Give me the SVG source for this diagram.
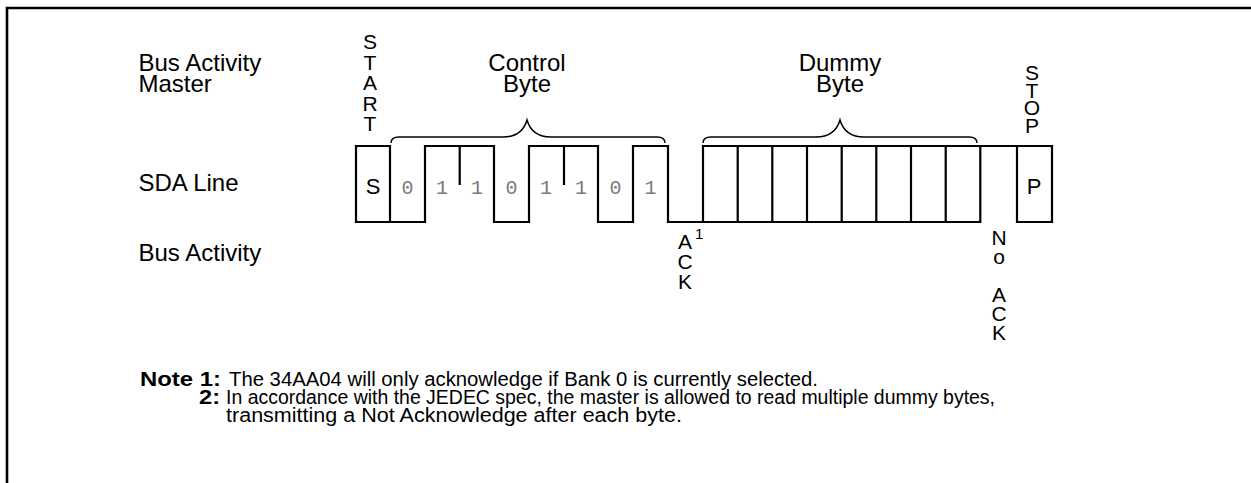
<svg xmlns="http://www.w3.org/2000/svg" width="1251" height="483" viewBox="0 0 1251 483">
<style>
text{font-family:"Liberation Sans",Arial,sans-serif;fill:#000}
.lbl{font-size:24px}
.vt{font-size:21px;text-anchor:middle}
.bit{font-family:"Liberation Mono","Courier New",monospace;font-size:20px;fill:#7a7a7a;text-anchor:middle}
.sp{font-size:22px;text-anchor:middle}
.note{font-size:20px}
.b{font-weight:bold}
.wave{fill:none;stroke:#000;stroke-width:2.2;stroke-linejoin:miter;stroke-linecap:square}
.brace{fill:none;stroke:#000;stroke-width:1.5}
.frame{fill:none;stroke:#000;stroke-width:2.6}
</style>
<rect width="1251" height="483" fill="#fff"/>
<g id="frame"><path class="frame" d="M7,483 V8 H1251"/></g>
<g id="row-labels">
<text class="lbl" x="138.5" y="71">Bus Activity</text>
<text class="lbl" x="138.5" y="92">Master</text>
<text class="lbl" x="138.5" y="191">SDA Line</text>
<text class="lbl" x="138.5" y="261">Bus Activity</text>
</g>
<g id="start">
<text class="vt"><tspan x="370" y="49">S</tspan><tspan x="370" y="69.5">T</tspan><tspan x="370" y="90">A</tspan><tspan x="370" y="110.5">R</tspan><tspan x="370" y="131">T</tspan></text>
</g>
<g id="control-byte">
<text class="lbl" x="527" y="71" text-anchor="middle">Control</text>
<text class="lbl" x="527" y="92" text-anchor="middle">Byte</text>
<path class="brace" d="M391,143 Q391,137 399,137 L503,137 Q522,137 527,120 Q532,137 551,137 L657,137 Q665,137 665,143"/>
</g>
<g id="dummy-byte">
<text class="lbl" x="840" y="71" text-anchor="middle">Dummy</text>
<text class="lbl" x="840" y="92" text-anchor="middle">Byte</text>
<path class="brace" d="M703,143 Q703,137 711,137 L816,137 Q835,137 840,120 Q845,137 864,137 L969,137 Q977,137 977,143"/>
</g>
<g id="stop">
<text class="vt"><tspan x="1032" y="80">S</tspan><tspan x="1032" y="97.5">T</tspan><tspan x="1032" y="115">O</tspan><tspan x="1032" y="132.5">P</tspan></text>
</g>
<g id="connectors">
<path class="wave" d="M356,222 V146 H390 V222 M356,222 H425 V146 H494 V222 H529 V146 H598 V222 H633 V146 H668 V222 H703 V146 H1052 V222 H1017 V146 M703,222 H980.3 V146 M737.7,146 V222 M772.3,146 V222 M807,146 V222 M841.7,146 V222 M876.3,146 V222 M911,146 V222 M945.7,146 V222 M459.7,146 V184 M564,146 V184"/>
</g>
<g id="sda-bits">
<text class="sp" x="373" y="194">S</text>
<text class="bit" x="407.5" y="194">0</text>
<text class="bit" x="442" y="194">1</text>
<text class="bit" x="477" y="194">1</text>
<text class="bit" x="511.5" y="194">0</text>
<text class="bit" x="546" y="194">1</text>
<text class="bit" x="581" y="194">1</text>
<text class="bit" x="615.5" y="194">0</text>
<text class="bit" x="650.5" y="194">1</text>
<text class="sp" x="1034" y="194">P</text>
</g>
<g id="ack">
<text class="vt"><tspan x="685" y="249">A</tspan><tspan x="685" y="269">C</tspan><tspan x="685" y="289">K</tspan></text>
<text x="695" y="239" style="font-size:15px">1</text>
</g>
<g id="no-ack">
<text class="vt"><tspan x="999" y="245">N</tspan><tspan x="999" y="264">o</tspan><tspan x="999" y="302">A</tspan><tspan x="999" y="321">C</tspan><tspan x="999" y="340">K</tspan></text>
</g>
<g id="notes">
<text class="note b" x="140" y="386" textLength="81" lengthAdjust="spacingAndGlyphs">Note 1:</text>
<text class="note" x="229" y="386" textLength="589" lengthAdjust="spacingAndGlyphs">The 34AA04 will only acknowledge if Bank 0 is currently selected.</text>
<text class="note b" x="199" y="404" textLength="21" lengthAdjust="spacingAndGlyphs">2:</text>
<text class="note" x="226" y="404" textLength="769" lengthAdjust="spacingAndGlyphs">In accordance with the JEDEC spec, the master is allowed to read multiple dummy bytes,</text>
<text class="note" x="226" y="422" textLength="456" lengthAdjust="spacingAndGlyphs">transmitting a Not Acknowledge after each byte.</text>
</g>
</svg>
